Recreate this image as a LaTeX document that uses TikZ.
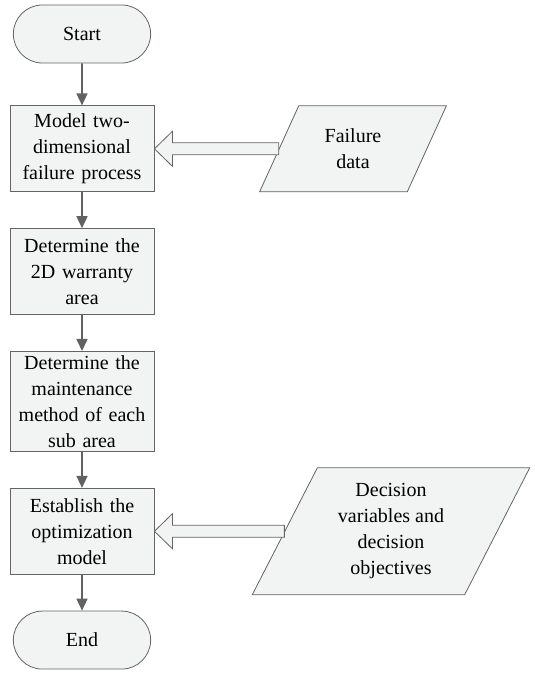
\documentclass[tikz,border=0pt]{standalone}
\usepackage{fontspec}
\setmainfont{Liberation Serif}
\usetikzlibrary{positioning}
\usetikzlibrary{calc}
\usetikzlibrary{arrows.meta}
\usetikzlibrary{shapes.geometric,shapes.misc}
\usetikzlibrary{chains}
\definecolor{boxfill}{RGB}{242,243,243}
\definecolor{boxline}{RGB}{100,100,100}
\definecolor{flowline}{RGB}{98,98,98}

\begin{document}
\begin{tikzpicture} [
   x=1pt, y=1pt,
   start chain=going below,        % Flow runs from Start down to End
   node distance=36pt and 40pt,    % Gap between the boxes
   font=\fontsize{20}{26}\selectfont,
    ]
% -------------------------------------------------
\tikzset{
  base/.style={draw=boxline, fill=boxfill, line width=0.8pt, align=center},
  term/.style={base, on chain, rounded rectangle, minimum width=144pt, minimum height=58pt},
  proc/.style={base, on chain, rectangle, text width=134pt, inner xsep=5pt, inner ysep=4pt, minimum height=86pt},
  io/.style={base, on grid, trapezium, trapezium left angle=64, trapezium right angle=116, trapezium stretches=true},
  line/.style={draw=flowline, line width=1.6pt, -{Triangle[width=11pt,length=12pt]}},
  fat/.style={draw=boxline, fill=boxfill, line width=0.8pt, line join=miter},
}
    \useasboundingbox (0,0) rectangle (535,675);

    \node [term] (start) at (82,641) {Start};
    \node [proc, yshift=-6pt] (m1) {Model two-\\dimensional\\failure process};
    \node [proc] (m2) {Determine the\\2D warranty\\area};
    \node [proc] (m3) {Determine the\\maintenance\\method of each\\sub area};
    \node [proc] (m4) {Establish the\\optimization\\model};
    \node [term] (end) {End};

    \node [io, right=271pt of m1, minimum width=187pt, minimum height=86pt] (fd) {Failure\\data};
    \node [io, right=309pt of m4, minimum width=278pt, minimum height=127pt] (dv) {Decision\\variables and\\decision\\objectives};

    \path [line] (start) -- (m1);
    \path [line] (m1) -- (m2);
    \path [line] (m2) -- (m3);
    \path [line] (m3) -- (m4);
    \path [line] (m4) -- (end);

    \draw [fat] (m1.east) -- ++(18,17.5) -- ++(0,-11.5) -- ($(fd.west)+(0,6)$) -- ($(fd.west)+(0,-6)$) -- ($(m1.east)+(18,-6)$) -- ++(0,-11.5) -- cycle;
    \draw [fat] (m4.east) -- ++(18,17.5) -- ++(0,-11.5) -- ($(dv.west)+(0,6)$) -- ($(dv.west)+(0,-6)$) -- ($(m4.east)+(18,-6)$) -- ++(0,-11.5) -- cycle;

\end{tikzpicture}
\end{document}
